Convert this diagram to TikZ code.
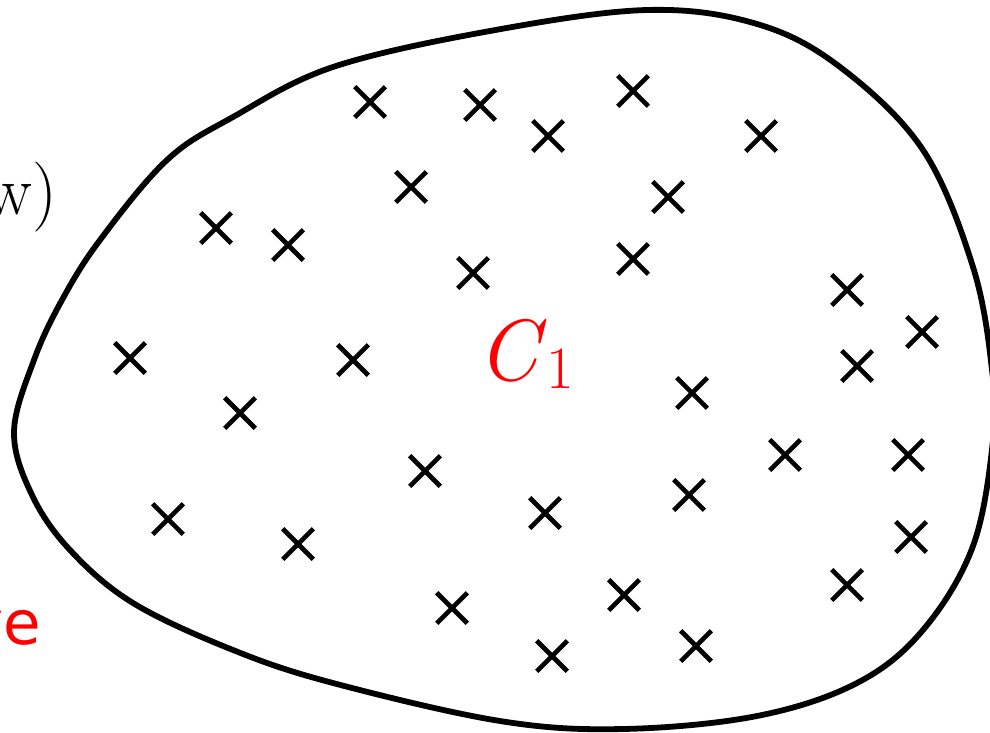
\documentclass[tikz,border=0pt]{standalone}
\usepackage{fontspec}
\newfontfamily\labelsans{DejaVu Sans}
\usetikzlibrary{shapes.misc}
\tikzset{
  pt/.style={cross out, draw=black, line width=4.6pt, minimum size=26pt, inner sep=0pt},
  blob/.style={draw=black, line width=5.8pt},
  lbl/.style={inner sep=0pt, outer sep=0pt}
}
\begin{document}
\begin{tikzpicture}[x=1pt,y=-1pt]
\useasboundingbox (0,0) rectangle (990,733);
\draw[blob] plot[smooth cycle, tension=0.6] coordinates {
 (647,10) (757,24) (840,67) (923,150) (973,267) (992,370) (993,440) (973,546)
 (923,630) (857,683) (757,716) (623,729) (500,721) (333,683) (233,650)
 (133,603) (70,550) (32,495) (14,432) (34,360) (62,300) (100,240) (167,160)
 (233,117) (333,67) (490,31)};
\node[pt] (p1) at (370,102) {};
\node[pt] (p2) at (480,105) {};
\node[pt] (p3) at (548,136) {};
\node[pt] (p4) at (633,91) {};
\node[pt] (p5) at (761,136) {};
\node[pt] (p6) at (411,187) {};
\node[pt] (p7) at (668,197) {};
\node[pt] (p8) at (216,228) {};
\node[pt] (p9) at (288,245) {};
\node[pt] (p10) at (633,259) {};
\node[pt] (p11) at (473,273) {};
\node[pt] (p12) at (847,290) {};
\node[pt] (p13) at (922,332) {};
\node[pt] (p14) at (130,358) {};
\node[pt] (p15) at (353,360) {};
\node[pt] (p16) at (857,366) {};
\node[pt] (p17) at (692,393) {};
\node[pt] (p18) at (240,413) {};
\node[pt] (p19) at (785,455) {};
\node[pt] (p20) at (908,455) {};
\node[pt] (p21) at (425,471) {};
\node[pt] (p22) at (689,495) {};
\node[pt] (p23) at (168,519) {};
\node[pt] (p24) at (545,513) {};
\node[pt] (p25) at (911,537) {};
\node[pt] (p26) at (298,544) {};
\node[pt] (p27) at (624,595) {};
\node[pt] (p28) at (847,585) {};
\node[pt] (p29) at (452,608) {};
\node[pt] (p30) at (696,646) {};
\node[pt] (p31) at (552,656) {};
\node[lbl, anchor=base west, text=red] (c1) at (477,380) {\fontsize{87}{100}\selectfont\itshape C\kern9pt\raisebox{-8pt}{\upshape\fontsize{60}{60}\selectfont 1}};
\node[lbl, anchor=base east] (w) at (57,214) {\fontsize{70}{80}\selectfont w)};
\node[lbl, anchor=base east, text=red] (ve) at (41,644) {\fontsize{61}{70}\selectfont\labelsans ve};
\end{tikzpicture}
\end{document}
